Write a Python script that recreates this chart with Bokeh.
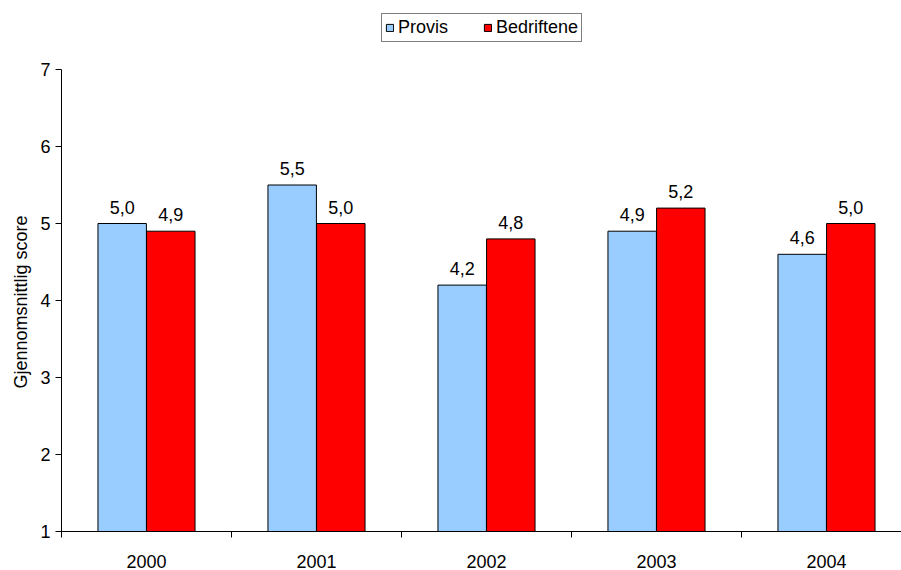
from bokeh.plotting import figure
from bokeh.models import ColumnDataSource, FixedTicker, Legend, LegendItem, LabelSet, Range1d, Title
from bokeh.core.properties import value
from bokeh.embed import file_html
from bokeh.resources import INLINE

years = ["2000", "2001", "2002", "2003", "2004"]
provis = [5.0, 5.5, 4.2, 4.9, 4.6]
bedriftene = [4.9, 5.0, 4.8, 5.2, 5.0]
y_ticks = [1, 2, 3, 4, 5, 6, 7]
series_names = ["Provis", "Bedriftene"]
colors = ["#99CCFF", "#FF0000"]
y_title = "Gjennomsnittlig score"

FONT = "Liberation Sans"
FS = "18px"


def fmt(v):
    return f"{v:.1f}".replace(".", ",")


centers = [i + 0.5 for i in range(len(years))]
bounds = [float(i) for i in range(len(years) + 1)]
off = 0.143
bw = 0.285

# frame spans the full canvas height above the x axis so the legend can sit inside it;
# the y axis is drawn only from 1 to 7
p = figure(width=901, height=570, x_range=Range1d(0, 840 / 170), y_range=Range1d(1, 7 + 69 / 77.0),
           output_backend="svg", toolbar_location=None,
           min_border_left=61, min_border_right=0, min_border_top=0, min_border_bottom=10)
p.outline_line_color = None
p.xgrid.grid_line_color = None
p.ygrid.grid_line_color = None
p.background_fill_color = "white"
p.border_fill_color = "white"

renderers = []
for k, (vals, col) in enumerate(zip([provis, bedriftene], colors)):
    sign = -1 if k == 0 else 1
    src = ColumnDataSource(dict(x=[c + sign * off for c in centers], top=vals,
                                lab=[fmt(v) for v in vals]))
    r = p.vbar(x="x", top="top", bottom=1, width=bw, source=src, fill_color=col,
               line_color="black", line_width=1)
    renderers.append(r)
    p.add_layout(LabelSet(x="x", y="top", text="lab", source=src, y_offset=10,
                          text_align="center", text_baseline="alphabetic",
                          text_font=value(FONT), text_font_size=value(FS),
                          text_color="black"))

# x axis
xa = p.xaxis[0]
xa.ticker = FixedTicker(ticks=centers, minor_ticks=bounds)
xa.major_label_overrides = {c: y for c, y in zip(centers, years)}
xa.major_tick_out = 0
xa.major_tick_in = 0
xa.minor_tick_out = 6
xa.minor_tick_in = 0
xa.minor_tick_line_color = "black"
xa.axis_line_color = "black"
xa.major_label_standoff = 17
xa.major_label_text_font = FONT
xa.major_label_text_font_size = FS
xa.major_label_text_color = "black"

# y axis
ya = p.yaxis[0]
ya.ticker = FixedTicker(ticks=y_ticks)
ya.bounds = (y_ticks[0], y_ticks[-1])
ya.major_tick_out = 6
ya.major_tick_in = 0
ya.minor_tick_out = 0
ya.minor_tick_in = 0
ya.axis_line_color = "black"
ya.major_tick_line_color = "black"
ya.major_label_standoff = 5
ya.major_label_text_font = FONT
ya.major_label_text_font_size = FS
ya.major_label_text_color = "black"

# y-axis title, centred on the 1..7 span of the axis
p.add_layout(Title(text=y_title, align="left", offset=143, standoff=13,
                   text_font=FONT, text_font_size=FS, text_font_style="normal",
                   text_color="black"), "left")

legend = Legend(items=[LegendItem(label=n, renderers=[r]) for n, r in zip(series_names, renderers)],
                location=(320, 489), orientation="horizontal",
                glyph_width=9, glyph_height=9, label_standoff=4, spacing=35, padding=3, margin=0,
                label_text_font=FONT, label_text_font_size=FS, label_text_color="black",
                border_line_color="black", border_line_width=1, background_fill_color="white",
                background_fill_alpha=1)
p.add_layout(legend, "center")

open("out.html", "w").write(file_html(p, INLINE))
